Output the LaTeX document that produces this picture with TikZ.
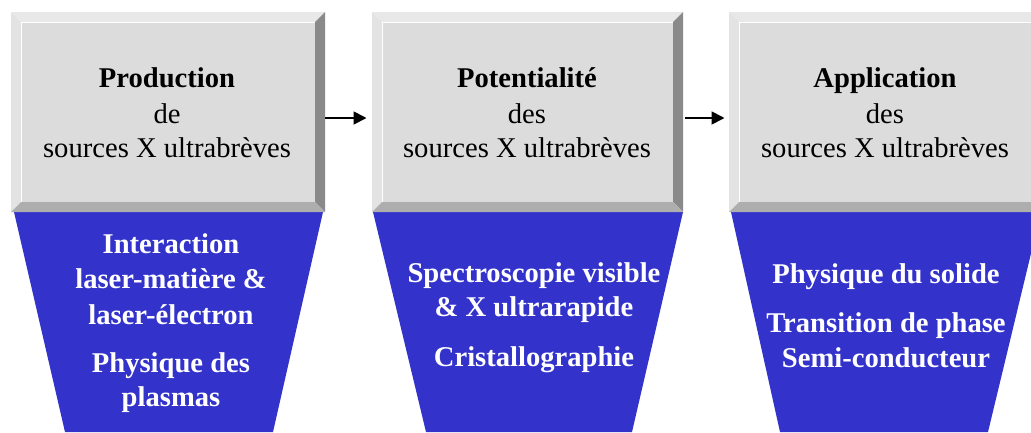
\documentclass[tikz,border=0pt]{standalone}
\usepackage{fontspec}
\setmainfont{Liberation Serif}
\usetikzlibrary{arrows.meta}
\definecolor{facegray}{HTML}{DCDCDC}
\definecolor{toplight}{HTML}{E8E8E8}
\definecolor{leftlight}{HTML}{E3E3E3}
\definecolor{rightdark}{HTML}{8A8A8A}
\definecolor{bottommid}{HTML}{AEAEAE}
\definecolor{funnelblue}{HTML}{3333CC}
\tikzset{
  greytxt/.style={anchor=base, inner sep=0pt, text=black, font=\fontsize{28.6}{34}\selectfont},
  greyhead/.style={greytxt, font=\fontsize{28.6}{34}\selectfont\bfseries},
  bluetxt/.style={anchor=base, inner sep=0pt, text=white, font=\fontsize{28.6}{34}\selectfont\bfseries},
  boxnode/.style={minimum width=314pt, minimum height=200pt, inner sep=0pt, outer sep=0pt},
  arr/.style={line width=1.8pt, -{Triangle[length=13pt,width=13pt]}, shorten >=4pt},
  funnel/.style={fill=funnelblue, draw=none}
}
\newcommand{\bevelbox}[4]{%
  % #1 x1, #2 y1, #3 x2, #4 y2 ; bevel 10
  \fill[toplight] (#1,#2) -- (#3,#2) -- (#3-10,#2+10) -- (#1+10,#2+10) -- cycle;
  \fill[leftlight] (#1,#2) -- (#1+10,#2+10) -- (#1+10,#4-10) -- (#1,#4) -- cycle;
  \fill[rightdark] (#3,#2) -- (#3,#4) -- (#3-10,#4-10) -- (#3-10,#2+10) -- cycle;
  \fill[bottommid] (#1,#4) -- (#3,#4) -- (#3-10,#4-10) -- (#1+10,#4-10) -- cycle;
  \fill[facegray] (#1+10,#2+10) rectangle (#3-10,#4-10);
  \draw[white, line width=1pt] (#1+10.5,#4-10.5) -- (#1+10.5,#2+10.5) -- (#3-10.5,#2+10.5);
}
\begin{document}
\begin{tikzpicture}[x=1pt,y=-1pt]
\useasboundingbox (0,0) rectangle (1031,432);
\fill[white] (0,0) rectangle (1031,432);
\clip (0,0) rectangle (1031,432);

% funnels
\fill[funnel] (14,212) -- (323,212) -- (273,432) -- (65,432) -- cycle;
\fill[funnel] (373,212) -- (683,212) -- (632,432) -- (426,432) -- cycle;
\fill[funnel] (731,212) -- (1041,212) -- (988,432) -- (780,432) -- cycle;

% grey boxes
\bevelbox{11}{12}{325}{212}
\bevelbox{372}{12}{683}{212}
\bevelbox{729}{12}{1042}{212}

\node[boxnode] (b1) at (168,112) {};
\node[boxnode] (b2) at (527.5,112) {};
\node[boxnode] (b3) at (885.5,112) {};

% arrows
\draw[arr] ([yshift=-6pt]b1.east) -- ([yshift=-6pt]b2.west);
\draw[arr] ([yshift=-6pt]b2.east) -- ([yshift=-6pt]b3.west);

% grey texts
\node[greyhead] (h1) at (167,87) {Production};
\node[greytxt] (d1) at (167,123) {de};
\node[greytxt] (s1) at (167,157) {sources X ultrabrèves};

\node[greyhead] (h2) at (527,87) {Potentialité};
\node[greytxt] (d2) at (527,123) {des};
\node[greytxt] (s2) at (527,157) {sources X ultrabrèves};

\node[greyhead] (h3) at (885,87) {Application};
\node[greytxt] (d3) at (885,123) {des};
\node[greytxt] (s3) at (885,157) {sources X ultrabrèves};

% blue texts
\node[bluetxt] (u1) at (171,253) {Interaction};
\node[bluetxt] (u2) at (171,288) {laser-matière \&};
\node[bluetxt] (u3) at (171,324) {laser-électron};
\node[bluetxt] (u4) at (171,372) {Physique des};
\node[bluetxt] (u5) at (171,406) {plasmas};

\node[bluetxt] (v1) at (534,282) {Spectroscopie visible};
\node[bluetxt] (v2) at (534,316) {\& X ultrarapide};
\node[bluetxt] (v3) at (534,366) {Cristallographie};

\node[bluetxt] (w1) at (886,283) {Physique du solide};
\node[bluetxt] (w2) at (886,332) {Transition de phase};
\node[bluetxt] (w3) at (886,367) {Semi-conducteur};
\end{tikzpicture}
\end{document}
